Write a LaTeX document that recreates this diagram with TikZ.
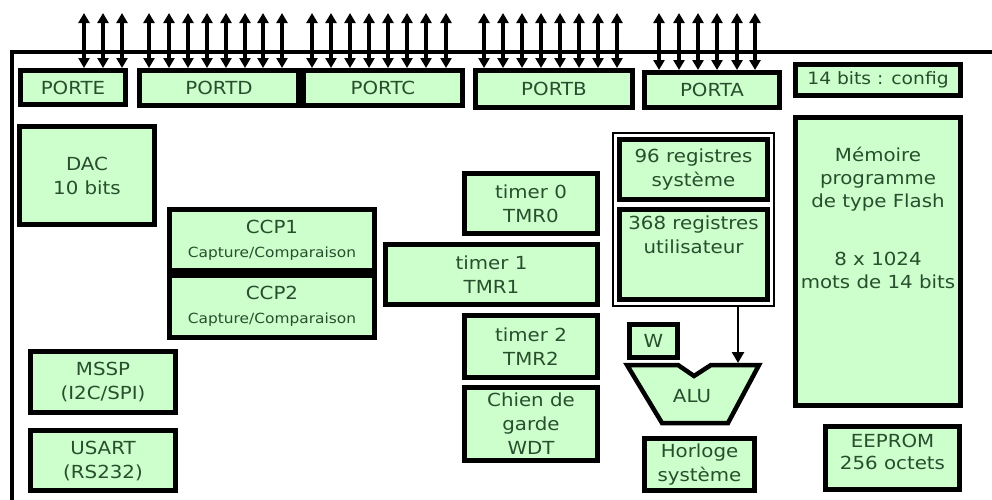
\documentclass[tikz,border=0pt]{standalone}
\usepackage{fontspec}
\newfontfamily\dvs[FakeStretch=1.1]{DejaVu Sans}
\usetikzlibrary{arrows.meta}
\definecolor{boxfill}{RGB}{204,255,204}
\definecolor{txtgreen}{RGB}{40,78,45}
\newcommand\mkbox[7][]{%
  \node[box,#1,minimum width={(#5-#3-5)*1pt},minimum height={(#6-#4-5)*1pt}] (#2) at ({(#3+#5)/2},{(#4+#6)/2}) {#7};}
\newcommand\capfont{\dvs\fontsize{14}{19}\selectfont}
\begin{document}
\begin{tikzpicture}[x=1pt,y=-1pt,
  box/.style={draw=black,line width=5pt,fill=boxfill,text=txtgreen,inner sep=0pt,align=center,
    font=\dvs\fontsize{18}{24}\selectfont},
  txt/.style={text=txtgreen,inner sep=0pt,align=center,font=\dvs\fontsize{18}{24}\selectfont},
  io/.style={line width=3.4pt,{Triangle[width=11pt,length=10pt]}-{Triangle[width=11pt,length=10pt]}},
  dn/.style={line width=2.6pt,-{Triangle[width=12pt,length=11pt]}},
  frame/.style={line width=4pt,line cap=rect},
  thinbox/.style={draw=black,line width=2pt,fill=white,inner sep=0pt},
  alu/.style={draw=black,line width=4.5pt,line join=miter,fill=boxfill}]
\fill[white] (0,0) rectangle (992,499);
\useasboundingbox (0,0) rectangle (992,499);
% outer frame
\coordinate (fTR) at (995,52);
\coordinate (fTL) at (12,52);
\coordinate (fBL) at (12,505);
\draw[frame] (fTR) -- (fTL) -- (fBL);
% ports
\mkbox{PORTE}{18}{68}{128}{107}{PORTE}
\mkbox{PORTD}{137}{68}{301}{108}{PORTD}
\mkbox{PORTC}{301}{68}{465}{108}{PORTC}
\mkbox{PORTB}{473}{68}{635}{110}{PORTB}
\mkbox{PORTA}{642}{70}{782}{110}{PORTA}
\mkbox[font=\dvs\fontsize{17}{22}\selectfont]{config}{793}{62}{963}{98}{14 bits : config}
% port arrows
\foreach \x in {84,103,122} \draw[io] (PORTE.north -| \x,0) -- (\x,13);
\foreach \x in {149,169,188,207,226,245,263,282} \draw[io] (PORTD.north -| \x,0) -- (\x,13);
\foreach \x in {312,331,350,369,388,407,426,446} \draw[io] (PORTC.north -| \x,0) -- (\x,13);
\foreach \x in {484,503,522,541,560,579,598,617} \draw[io] (PORTB.north -| \x,0) -- (\x,13);
\foreach \x in {659,679,698,717,737,755} \draw[io] (PORTA.north -| \x,0) -- (\x,13);
% left column
\mkbox{DAC}{17}{124}{157}{227}{DAC\\10 bits}
\mkbox{MSSP}{28}{349}{178}{415}{MSSP\\(I2C/SPI)}
\mkbox{USART}{28}{428}{178}{493}{USART\\(RS232)}
% CCP
\mkbox{CCPa}{167}{207}{377}{273}{CCP1\\{\capfont Capture/Comparaison}}
\mkbox{CCPb}{167}{273}{377}{340}{CCP2\\{\capfont Capture/Comparaison}}
% timers
\mkbox{TMRa}{462}{171}{600}{236}{timer 0\\TMR0}
\mkbox{TMRb}{383}{242}{600}{307}{timer 1\\TMR1}
\mkbox{TMRc}{462}{313}{600}{380}{timer 2\\TMR2}
\mkbox{WDT}{462}{385}{600}{463}{Chien de\\garde\\WDT}
% registers
\node[thinbox,minimum width=161pt,minimum height=173pt] (regs) at (693.5,219.5) {};
\mkbox{regsys}{617}{137}{770}{202}{96 registres\\système}
\mkbox{regusr}{617}{207}{770}{302}{}
\node[txt,anchor=north] (regusrtxt) at (693.5,216) {368 registres\\utilisateur};
% W and ALU
\mkbox{W}{627}{322}{680}{360}{W}
\draw[alu] (627,365) -- (678,365) -- (694,376) -- (711,365) -- (759,365) -- (728,423) -- (662,423) -- cycle;
\node[txt] (alutxt) at (692,396) {ALU};
\coordinate (alutop) at (738,363);
\draw[dn] (regs.south -| alutop) -- (alutop);
\mkbox{clk}{642}{436}{757}{493}{Horloge\\système}
% memory
\mkbox{mem}{793}{115}{963}{408}{}
\node[txt,anchor=north,font=\dvs\fontsize{18}{23}\selectfont] (memtxt) at (878,147) {Mémoire\\programme\\de type Flash\\[35pt]8 x 1024\\mots de 14 bits};
\mkbox{eeprom}{823}{424}{962}{492}{}
\node[txt,anchor=north,font=\dvs\fontsize{18}{22}\selectfont] (eepromtxt) at (892.5,434) {EEPROM\\256 octets};
\end{tikzpicture}
\end{document}
